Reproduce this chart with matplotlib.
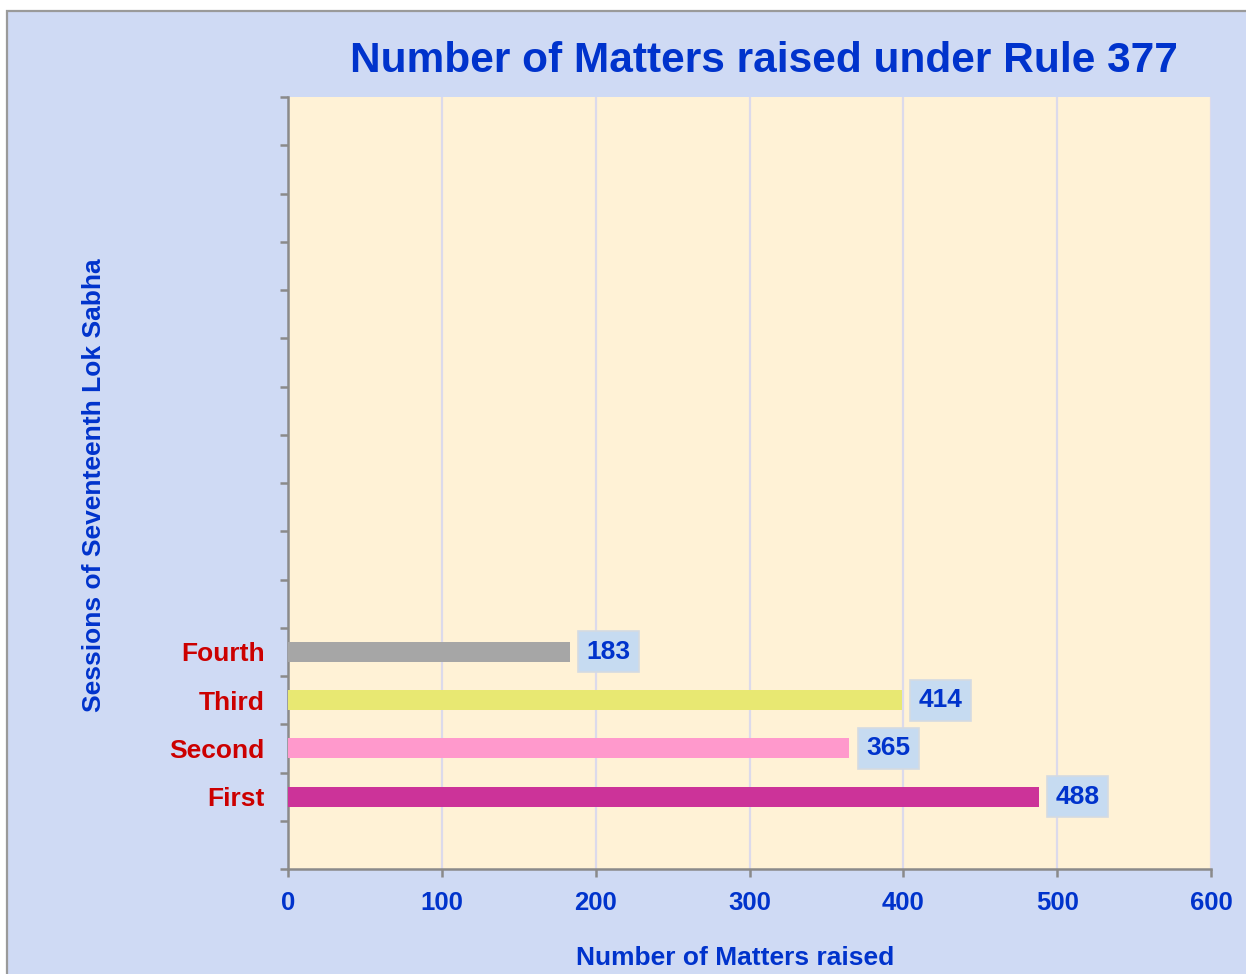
import matplotlib.pyplot as plt
import numpy as np
from matplotlib.patches import Rectangle

plt.rcParams['font.family'] = ['Liberation Sans', 'DejaVu Sans']
plt.rcParams['font.weight'] = 'bold'

sessions = ["First", "Second", "Third", "Fourth"]
# bar lengths as drawn in the picture, and the numbers printed beside them
bar_lengths = [488, 365, 399, 183]
bar_labels = ["488", "365", "414", "183"]
colors = ["#cc3399", "#ff99cc", "#e8e872", "#a6a6a6"]
slots = 16
xticks = [0, 100, 200, 300, 400, 500, 600]

blue = "#0033cc"
red = "#cc0000"
gray = "#8a8a8a"

W, H = 1246, 974
fig = plt.figure(figsize=(W / 100, H / 100), dpi=100, facecolor="white")

# textured background approximated by a flat tint, framed by a gray line
bg = Rectangle((7 / W, -0.1), 1.2, 1.1 - 11 / H, transform=fig.transFigure,
               facecolor="#cfdaf4", edgecolor="#9a9a9a", linewidth=1.6, zorder=-10)
fig.patches.append(bg)

ax = fig.add_axes([288 / W, 1 - 869 / H, (1211 - 288) / W, (869 - 97) / H])
ax.set_facecolor("#fff2d6")

ypos = np.arange(1, len(sessions) + 1)
ax.barh(ypos, bar_lengths, height=0.41, color=colors, zorder=3)

for y, v, t in zip(ypos, bar_lengths, bar_labels):
    ax.annotate(t, (v, y), xytext=(17, 0), textcoords="offset pixels",
                ha="left", va="center", fontsize=19, color=blue, fontweight="bold",
                bbox=dict(boxstyle="square,pad=0.32", facecolor="#c6dbf1",
                          edgecolor="#d4dae2", linewidth=1.2), zorder=4)

ax.set_xlim(0, 600)
ax.set_ylim(-0.5, slots - 0.5)
ax.set_xticks(xticks)
ax.set_xticklabels([str(t) for t in xticks])
ax.set_yticks(ypos)
ax.set_yticklabels(sessions)
ax.set_yticks(np.arange(-0.5, slots, 1), minor=True)

ax.tick_params(axis="x", direction="out", length=6, width=1.8, color=gray,
               pad=10, labelsize=18.5, labelcolor=blue)
ax.tick_params(axis="y", which="major", length=0, pad=17, labelsize=19, labelcolor=red)
ax.tick_params(axis="y", which="minor", direction="out", length=6, width=1.8, color=gray)
for lab in ax.get_xticklabels() + ax.get_yticklabels():
    lab.set_fontweight("bold")

ax.grid(axis="x", color="#dcdaeb", linewidth=1.6, zorder=0)
ax.set_axisbelow(True)
for s in ["top", "right"]:
    ax.spines[s].set_visible(False)
for s in ["left", "bottom"]:
    ax.spines[s].set_color(gray)
    ax.spines[s].set_linewidth(1.8)

fig.text(764 / W, 1 - 61 / H, "Number of Matters raised under Rule 377",
         ha="center", va="center", fontsize=30.5, color=blue, fontweight="bold")
fig.text(735 / W, 1 - 958 / H, "Number of Matters raised",
         ha="center", va="center", fontsize=19, color=blue, fontweight="bold")
fig.text(94 / W, 1 - 485 / H, "Sessions of Seventeenth Lok Sabha", rotation=90,
         ha="center", va="center", fontsize=19, color=blue, fontweight="bold")

fig.savefig("out.png", dpi=100, facecolor=fig.get_facecolor())
